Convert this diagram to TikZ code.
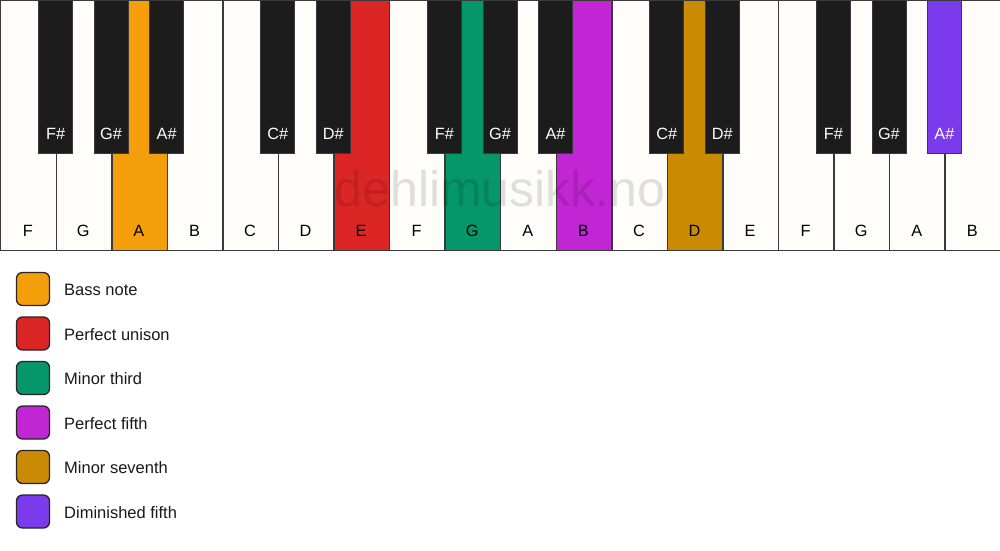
\documentclass[tikz,border=0pt]{standalone}
\usepackage{fontspec}
\setmainfont{Liberation Sans}
\definecolor{keywhite}{HTML}{FFFDF9}
\definecolor{keyblack}{HTML}{1C1C1C}
\definecolor{keyline}{HTML}{3A3A3A}
\definecolor{cbass}{HTML}{F59E0B}
\definecolor{cunison}{HTML}{DC2626}
\definecolor{cthird}{HTML}{059669}
\definecolor{cfifth}{HTML}{C026D3}
\definecolor{cseventh}{HTML}{CA8A04}
\definecolor{cdim}{HTML}{7C3AED}
\tikzset{
  whitekey/.style={draw=keyline, line width=1.4pt, fill=keywhite, minimum width=55.556pt, minimum height=250pt, inner sep=0pt, anchor=north west},
  blackkey/.style={draw=keyline, line width=0.8pt, fill=keyblack, minimum width=34pt, minimum height=153pt, inner sep=0pt, anchor=north},
  wlabel/.style={font=\fontsize{16.3}{19}\selectfont, text=black, anchor=base, inner sep=0pt},
  blabel/.style={font=\fontsize{16.3}{19}\selectfont, text=white, anchor=base, inner sep=0pt},
  legbox/.style={draw=black!85, line width=1.3pt, rounded corners=6pt, minimum width=33pt, minimum height=33pt, inner sep=0pt},
  legtext/.style={font=\fontsize{16.5}{19}\selectfont, text=black!90, anchor=base west, inner sep=0pt},
  watermark/.style={font=\fontsize{50}{60}\selectfont, text=black, text opacity=0.12, anchor=base, inner sep=0pt}
}
\begin{document}
\begin{tikzpicture}[x=1pt,y=-1pt]
\useasboundingbox (0,0) rectangle (1000,550);
\fill[white] (0,0) rectangle (1000,550);
% white keys
\foreach \i/\n/\c in {0/F/keywhite,1/G/keywhite,2/A/cbass,3/B/keywhite,4/C/keywhite,5/D/keywhite,6/E/cunison,7/F/keywhite,8/G/cthird,9/A/keywhite,10/B/cfifth,11/C/keywhite,12/D/cseventh,13/E/keywhite,14/F/keywhite,15/G/keywhite,16/A/keywhite,17/B/keywhite}{
  \node[whitekey, fill=\c] (w\i) at ({\i*55.556},0) {};
  \node[wlabel] (wl\i) at ({(\i+0.5)*55.556},236) {\n};
}
\node[watermark] (wm) at (500,206.5) {dehlimusikk.no};
% black keys
\foreach \i/\n/\c in {1/F\#/keyblack,2/G\#/keyblack,3/A\#/keyblack,5/C\#/keyblack,6/D\#/keyblack,8/F\#/keyblack,9/G\#/keyblack,10/A\#/keyblack,12/C\#/keyblack,13/D\#/keyblack,15/F\#/keyblack,16/G\#/keyblack,17/A\#/cdim}{
  \node[blackkey, fill=\c] (b\i) at ({\i*55.556},0) {};
  \node[blabel] (bl\i) at ({\i*55.556},139) {\n};
}
% legend
\foreach \k/\c/\t in {0/cbass/Bass note,1/cunison/Perfect unison,2/cthird/Minor third,3/cfifth/Perfect fifth,4/cseventh/Minor seventh,5/cdim/Diminished fifth}{
  \node[legbox, fill=\c] (lb\k) at (33,{289+\k*44.5}) {};
  \node[legtext] (lt\k) at (64,{295.5+\k*44.5}) {\t};
}
\end{tikzpicture}
\end{document}
